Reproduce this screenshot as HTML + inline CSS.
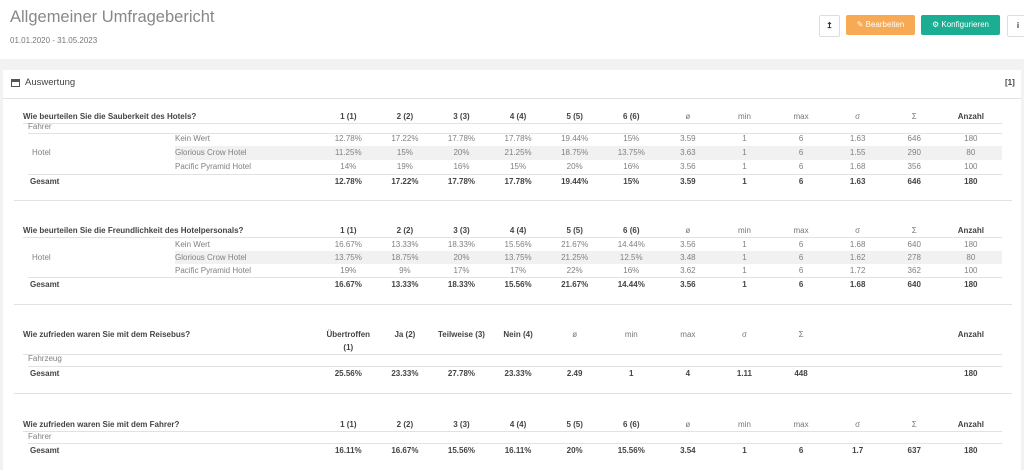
<!DOCTYPE html>
<html><head><meta charset="utf-8"><style>
body{margin:0;width:1024px;height:466px;overflow:hidden;background:#fff;font-family:"Liberation Sans",sans-serif;position:relative}
.a{position:absolute}
.r{position:absolute;left:0;width:1024px;height:12px;line-height:12px;font-size:8px;color:#808080}
.r .l{position:absolute;white-space:nowrap}
.r .c{position:absolute;left:320px;display:flex}
.r .c span{width:56.6px;text-align:center;display:block}
.b{color:#444;font-weight:bold}
.h .c span{color:#444;font-weight:bold}
.ln{position:absolute;height:1px;background:#e2e2e2}
.btn{position:absolute;top:15px;height:20px;border-radius:2px;font-size:8px;line-height:20px;text-align:center}
</style></head><body>
<div class="a" style="left:10px;top:8px;font-size:16.5px;color:#888">Allgemeiner Umfragebericht</div>
<div class="a" style="left:10px;top:36px;font-size:8px;color:#777">01.01.2020 - 31.05.2023</div>
<div class="btn" style="left:819px;width:19px;border:1px solid #ddd;color:#333;font-weight:bold">↥</div>
<div class="btn" style="left:846px;width:69px;background:#f7a954;color:#fff">✎ Bearbeiten</div>
<div class="btn" style="left:921px;width:79px;background:#1cae93;color:#fff">⚙ Konfigurieren</div>
<div class="btn" style="left:1007px;width:20px;border:1px solid #ddd;color:#333;font-weight:bold">i</div>
<div class="a" style="left:0;top:59px;width:1024px;height:11px;background:#f2f2f2"></div>
<div class="a" style="left:0;top:70px;width:3px;height:400px;background:#f2f2f2"></div>
<div class="a" style="left:1021px;top:70px;width:3px;height:400px;background:#f2f2f2"></div>
<div class="a" style="left:11px;top:79px;width:9px;height:8px;border:1px solid #555;box-sizing:border-box;background:linear-gradient(#555 0 2px,transparent 2px)"></div>
<div class="a" style="left:25px;top:77px;font-size:9.5px;color:#444">Auswertung</div>
<div class="a" style="left:1005px;top:78px;font-size:8px;color:#444;font-weight:bold">[1]</div>
<div class="ln" style="left:3px;width:1018px;top:98px"></div>

<!-- Table 1 -->
<div class="r h" style="top:111px"><span class="l b" style="left:23px">Wie beurteilen Sie die Sauberkeit des Hotels?</span><div class="c"><span>1 (1)</span><span>2 (2)</span><span>3 (3)</span><span>4 (4)</span><span>5 (5)</span><span>6 (6)</span><span style="font-weight:normal;color:#777">ø</span><span style="font-weight:normal;color:#777">min</span><span style="font-weight:normal;color:#777">max</span><span style="font-weight:normal;color:#777">σ</span><span style="font-weight:normal;color:#777">Σ</span><span>Anzahl</span></div></div>
<div class="ln" style="left:23px;width:979px;top:123px"></div>
<div class="r" style="top:121px"><span class="l" style="left:28px">Fahrer</span></div>
<div class="ln" style="left:28px;width:974px;top:133px"></div>
<div class="a" style="left:175px;top:146px;width:827px;height:14px;background:#f1f1f1"></div>
<div class="r" style="top:133px"><span class="l" style="left:175px">Kein Wert</span><div class="c"><span>12.78%</span><span>17.22%</span><span>17.78%</span><span>17.78%</span><span>19.44%</span><span>15%</span><span>3.59</span><span>1</span><span>6</span><span>1.63</span><span>646</span><span>180</span></div></div>
<div class="r" style="top:147px"><span class="l" style="left:32px">Hotel</span><span class="l" style="left:175px">Glorious Crow Hotel</span><div class="c"><span>11.25%</span><span>15%</span><span>20%</span><span>21.25%</span><span>18.75%</span><span>13.75%</span><span>3.63</span><span>1</span><span>6</span><span>1.55</span><span>290</span><span>80</span></div></div>
<div class="r" style="top:161px"><span class="l" style="left:175px">Pacific Pyramid Hotel</span><div class="c"><span>14%</span><span>19%</span><span>16%</span><span>15%</span><span>20%</span><span>16%</span><span>3.56</span><span>1</span><span>6</span><span>1.68</span><span>356</span><span>100</span></div></div>
<div class="ln" style="left:28px;width:974px;top:174px"></div>
<div class="r b" style="top:176px"><span class="l" style="left:30px">Gesamt</span><div class="c"><span>12.78%</span><span>17.22%</span><span>17.78%</span><span>17.78%</span><span>19.44%</span><span>15%</span><span>3.59</span><span>1</span><span>6</span><span>1.63</span><span>646</span><span>180</span></div></div>
<div class="ln" style="left:14px;width:998px;top:200px"></div>

<!-- Table 2 -->
<div class="r h" style="top:225px"><span class="l b" style="left:23px">Wie beurteilen Sie die Freundlichkeit des Hotelpersonals?</span><div class="c"><span>1 (1)</span><span>2 (2)</span><span>3 (3)</span><span>4 (4)</span><span>5 (5)</span><span>6 (6)</span><span style="font-weight:normal;color:#777">ø</span><span style="font-weight:normal;color:#777">min</span><span style="font-weight:normal;color:#777">max</span><span style="font-weight:normal;color:#777">σ</span><span style="font-weight:normal;color:#777">Σ</span><span>Anzahl</span></div></div>
<div class="ln" style="left:23px;width:979px;top:237px"></div>
<div class="a" style="left:175px;top:251px;width:827px;height:13px;background:#f1f1f1"></div>
<div class="r" style="top:239px"><span class="l" style="left:175px">Kein Wert</span><div class="c"><span>16.67%</span><span>13.33%</span><span>18.33%</span><span>15.56%</span><span>21.67%</span><span>14.44%</span><span>3.56</span><span>1</span><span>6</span><span>1.68</span><span>640</span><span>180</span></div></div>
<div class="r" style="top:252px"><span class="l" style="left:32px">Hotel</span><span class="l" style="left:175px">Glorious Crow Hotel</span><div class="c"><span>13.75%</span><span>18.75%</span><span>20%</span><span>13.75%</span><span>21.25%</span><span>12.5%</span><span>3.48</span><span>1</span><span>6</span><span>1.62</span><span>278</span><span>80</span></div></div>
<div class="r" style="top:265px"><span class="l" style="left:175px">Pacific Pyramid Hotel</span><div class="c"><span>19%</span><span>9%</span><span>17%</span><span>17%</span><span>22%</span><span>16%</span><span>3.62</span><span>1</span><span>6</span><span>1.72</span><span>362</span><span>100</span></div></div>
<div class="ln" style="left:28px;width:974px;top:277px"></div>
<div class="r b" style="top:279px"><span class="l" style="left:30px">Gesamt</span><div class="c"><span>16.67%</span><span>13.33%</span><span>18.33%</span><span>15.56%</span><span>21.67%</span><span>14.44%</span><span>3.56</span><span>1</span><span>6</span><span>1.68</span><span>640</span><span>180</span></div></div>
<div class="ln" style="left:14px;width:998px;top:304px"></div>

<!-- Table 3 -->
<div class="r h" style="top:329px"><span class="l b" style="left:23px">Wie zufrieden waren Sie mit dem Reisebus?</span><div class="c"><span>Übertroffen</span><span>Ja (2)</span><span>Teilweise (3)</span><span>Nein (4)</span><span style="font-weight:normal;color:#777">ø</span><span style="font-weight:normal;color:#777">min</span><span style="font-weight:normal;color:#777">max</span><span style="font-weight:normal;color:#777">σ</span><span style="font-weight:normal;color:#777">Σ</span><span></span><span></span><span>Anzahl</span></div></div>
<div class="r h" style="top:342px"><div class="c"><span>(1)</span></div></div>
<div class="ln" style="left:23px;width:979px;top:354px"></div>
<div class="r" style="top:353px"><span class="l" style="left:28px">Fahrzeug</span></div>
<div class="ln" style="left:28px;width:974px;top:366px"></div>
<div class="r b" style="top:368px"><span class="l" style="left:30px">Gesamt</span><div class="c"><span>25.56%</span><span>23.33%</span><span>27.78%</span><span>23.33%</span><span>2.49</span><span>1</span><span>4</span><span>1.11</span><span>448</span><span></span><span></span><span>180</span></div></div>
<div class="ln" style="left:14px;width:998px;top:393px"></div>

<!-- Table 4 -->
<div class="r h" style="top:419px"><span class="l b" style="left:23px">Wie zufrieden waren Sie mit dem Fahrer?</span><div class="c"><span>1 (1)</span><span>2 (2)</span><span>3 (3)</span><span>4 (4)</span><span>5 (5)</span><span>6 (6)</span><span style="font-weight:normal;color:#777">ø</span><span style="font-weight:normal;color:#777">min</span><span style="font-weight:normal;color:#777">max</span><span style="font-weight:normal;color:#777">σ</span><span style="font-weight:normal;color:#777">Σ</span><span>Anzahl</span></div></div>
<div class="ln" style="left:23px;width:979px;top:431px"></div>
<div class="r" style="top:431px"><span class="l" style="left:28px">Fahrer</span></div>
<div class="ln" style="left:28px;width:974px;top:443px"></div>
<div class="r b" style="top:445px"><span class="l" style="left:30px">Gesamt</span><div class="c"><span>16.11%</span><span>16.67%</span><span>15.56%</span><span>16.11%</span><span>20%</span><span>15.56%</span><span>3.54</span><span>1</span><span>6</span><span>1.7</span><span>637</span><span>180</span></div></div>
</body></html>
